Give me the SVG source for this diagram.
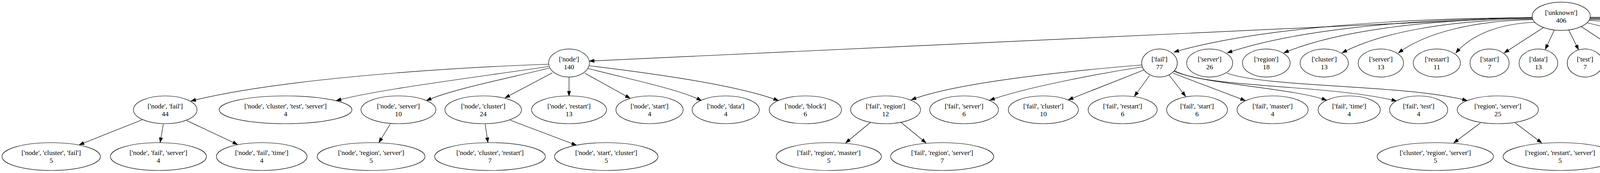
<svg xmlns="http://www.w3.org/2000/svg" width="5212" height="442" viewBox="0 0 5212 442">
<style>
.node ellipse{fill:#fff;stroke:#000;stroke-width:1.2}
.node text{font-family:"Liberation Serif","Times New Roman",serif;font-size:17.5px;text-anchor:middle;fill:#000}
.edges path{fill:none;stroke:#000;stroke-width:1.2;marker-end:url(#ah)}
</style>
<defs>
<marker id="ah" markerWidth="13" markerHeight="9" refX="12" refY="4.2" orient="auto" markerUnits="userSpaceOnUse" overflow="visible"><path d="M0,0 L12,4.2 L0,8.4 z" fill="#000" stroke="#000" stroke-width="1"/></marker>
</defs>
<rect width="5212" height="442" fill="#fff"/>
<g id="edges" class="edges">
<path d="M3923,44 L1509,156"/>
<path d="M3924,45 C3511,47 3189,80 3005.6,133"/>
<path d="M3924,46 C3572,48 3298,82 3142,135"/>
<path d="M3925,47 C3638,49 3414,82 3286.7,135"/>
<path d="M3926,49 C3706,51 3534,83 3436,135"/>
<path d="M3927,50 C3771,53 3649,84 3580,135"/>
<path d="M3930,57 C3839,60 3768,88 3727,135"/>
<path d="M3952,70 L3851,135"/>
<path d="M3979,77 L3956,126"/>
<path d="M4016,77 L4041,127"/>
<path d="M4048,68 L4147,133"/>
<path d="M4063,58 C4150,80 4240,100 4294,136"/>
<path d="M4068,52 C4230,62 4395,100 4444.8,136"/>
<path d="M4069,50 C4316,52 4499,84 4563,136"/>
<path d="M4070,48 C4388,50 4623,83 4706,136"/>
<path d="M4070,47 C4475,48 4776,82 4881,136"/>
<path d="M4071,45 C4539,46 4886,82 5007.6,136"/>
<path d="M4071,44 C4600,45 4990,81 5130,136"/>
<path d="M1404,164 C1100,175 700,205 489,258"/>
<path d="M1404,170 C1200,200 960,230 861,257"/>
<path d="M1406,174 C1300,200 1150,230 1092,257"/>
<path d="M1414,186 L1293,250"/>
<path d="M1456.7,197 L1456.7,245"/>
<path d="M1497,187 L1613,251"/>
<path d="M1506,175 C1600,200 1740,228 1795.6,257"/>
<path d="M1509,168 C1650,185 1880,215 1992.8,257"/>
<path d="M364,306 L203,370"/>
<path d="M418,317 L410,364"/>
<path d="M478,308 L608,369"/>
<path d="M999,317 L970,364"/>
<path d="M1242,317 L1249,364"/>
<path d="M1306,307 L1475.6,371"/>
<path d="M2923,166 C2750,180 2450,210 2333,255"/>
<path d="M2924,171 C2800,190 2620,225 2534,256"/>
<path d="M2928,179 L2735,255"/>
<path d="M2943,193 L2904,246"/>
<path d="M2993,192 L3035,246"/>
<path d="M3003,187 L3188,257"/>
<path d="M3005,182 C3080,215 3310,225 3396,256"/>
<path d="M3006,180 C3080,225 3400,215 3575,258"/>
<path d="M3141,187 C3250,225 3600,215 3756,257"/>
<path d="M2228,313 L2165,365"/>
<path d="M2307,313 L2370.6,365"/>
<path d="M3790,314 L3721.7,365"/>
<path d="M3879,314 L3946.7,365"/>
</g>
<g id="n_unknown" class="node"><ellipse cx="3996.7" cy="41.5" rx="74.4" ry="36.2"/><text x="3996.7" y="37.5">['unknown']</text><text x="3996.7" y="57.5">406</text></g>
<g id="n_node" class="node"><ellipse cx="1456.7" cy="161" rx="52.2" ry="35.8"/><text x="1456.7" y="157">['node']</text><text x="1456.7" y="177">140</text></g>
<g id="n_fail" class="node"><ellipse cx="2968.3" cy="161" rx="45.6" ry="35.8"/><text x="2968.3" y="157">['fail']</text><text x="2968.3" y="177">77</text></g>
<g id="n_server" class="node"><ellipse cx="3096.7" cy="161" rx="58.9" ry="35.8"/><text x="3096.7" y="157">['server']</text><text x="3096.7" y="177">26</text></g>
<g id="n_region" class="node"><ellipse cx="3241.7" cy="161" rx="61" ry="35.8"/><text x="3241.7" y="157">['region']</text><text x="3241.7" y="177">18</text></g>
<g id="n_cluster" class="node"><ellipse cx="3390" cy="161" rx="61.7" ry="35.8"/><text x="3390" y="157">['cluster']</text><text x="3390" y="177">13</text></g>
<g id="n_server2" class="node"><ellipse cx="3535" cy="161" rx="58" ry="35.8"/><text x="3535" y="157">['server']</text><text x="3535" y="177">13</text></g>
<g id="n_restart" class="node"><ellipse cx="3678.3" cy="161" rx="60.3" ry="35.8"/><text x="3678.3" y="157">['restart']</text><text x="3678.3" y="177">11</text></g>
<g id="n_start" class="node"><ellipse cx="3813.3" cy="161" rx="50" ry="35.8"/><text x="3813.3" y="157">['start']</text><text x="3813.3" y="177">7</text></g>
<g id="n_data" class="node"><ellipse cx="3938.3" cy="161" rx="49.4" ry="35.8"/><text x="3938.3" y="157">['data']</text><text x="3938.3" y="177">13</text></g>
<g id="n_test" class="node"><ellipse cx="4057.8" cy="161" rx="45.6" ry="35.8"/><text x="4057.8" y="157">['test']</text><text x="4057.8" y="177">7</text></g>
<g id="n_master" class="node"><ellipse cx="4191.7" cy="161" rx="63.3" ry="35.8"/><text x="4191.7" y="157">['master']</text><text x="4191.7" y="177">4</text></g>
<g id="n_process" class="node"><ellipse cx="4345.7" cy="161" rx="65.7" ry="35.8"/><text x="4345.7" y="157">['process']</text><text x="4345.7" y="177">4</text></g>
<g id="n_file" class="node"><ellipse cx="4480.9" cy="161" rx="45.8" ry="35.8"/><text x="4480.9" y="157">['file']</text><text x="4480.9" y="177">6</text></g>
<g id="n_block" class="node"><ellipse cx="4606.4" cy="161" rx="56.4" ry="35.8"/><text x="4606.4" y="157">['block']</text><text x="4606.4" y="177">4</text></g>
<g id="n_exception" class="node"><ellipse cx="4765.3" cy="161" rx="78" ry="35.8"/><text x="4765.3" y="157">['exception']</text><text x="4765.3" y="177">4</text></g>
<g id="n_state" class="node"><ellipse cx="4919.8" cy="161" rx="52" ry="35.8"/><text x="4919.8" y="157">['state']</text><text x="4919.8" y="177">4</text></g>
<g id="n_task" class="node"><ellipse cx="5045.9" cy="161" rx="49.2" ry="35.8"/><text x="5045.9" y="157">['task']</text><text x="5045.9" y="177">4</text></g>
<g id="n_job" class="node"><ellipse cx="5163" cy="161" rx="43.9" ry="35.8"/><text x="5163" y="157">['job']</text><text x="5163" y="177">5</text></g>
<g id="n_node_fail" class="node"><ellipse cx="423" cy="280.5" rx="81.4" ry="35.5"/><text x="423" y="276.5">['node', 'fail']</text><text x="423" y="296.5">44</text></g>
<g id="n_node_cluster_test_server" class="node"><ellipse cx="731" cy="280.5" rx="170" ry="35.5"/><text x="731" y="276.5">['node', 'cluster', 'test', 'server']</text><text x="731" y="296.5">4</text></g>
<g id="n_node_server" class="node"><ellipse cx="1020" cy="280.5" rx="95.8" ry="35.5"/><text x="1020" y="276.5">['node', 'server']</text><text x="1020" y="296.5">10</text></g>
<g id="n_node_cluster" class="node"><ellipse cx="1237" cy="280.5" rx="98" ry="35.5"/><text x="1237" y="276.5">['node', 'cluster']</text><text x="1237" y="296.5">24</text></g>
<g id="n_node_restart" class="node"><ellipse cx="1456.7" cy="280.5" rx="96" ry="35.5"/><text x="1456.7" y="276.5">['node', 'restart']</text><text x="1456.7" y="296.5">13</text></g>
<g id="n_node_start" class="node"><ellipse cx="1662.8" cy="280.5" rx="86" ry="35.5"/><text x="1662.8" y="276.5">['node', 'start']</text><text x="1662.8" y="296.5">4</text></g>
<g id="n_node_data" class="node"><ellipse cx="1857.8" cy="280.5" rx="86" ry="35.5"/><text x="1857.8" y="276.5">['node', 'data']</text><text x="1857.8" y="296.5">4</text></g>
<g id="n_node_block" class="node"><ellipse cx="2061.7" cy="280.5" rx="92.5" ry="35.5"/><text x="2061.7" y="276.5">['node', 'block']</text><text x="2061.7" y="296.5">6</text></g>
<g id="n_fail_region" class="node"><ellipse cx="2267" cy="280.5" rx="89.4" ry="35.5"/><text x="2267" y="276.5">['fail', 'region']</text><text x="2267" y="296.5">12</text></g>
<g id="n_fail_server" class="node"><ellipse cx="2468" cy="280.5" rx="88" ry="35.5"/><text x="2468" y="276.5">['fail', 'server']</text><text x="2468" y="296.5">6</text></g>
<g id="n_fail_cluster" class="node"><ellipse cx="2671" cy="280.5" rx="89.7" ry="35.5"/><text x="2671" y="276.5">['fail', 'cluster']</text><text x="2671" y="296.5">10</text></g>
<g id="n_fail_restart" class="node"><ellipse cx="2873.9" cy="280.5" rx="88.3" ry="35.5"/><text x="2873.9" y="276.5">['fail', 'restart']</text><text x="2873.9" y="296.5">6</text></g>
<g id="n_fail_start" class="node"><ellipse cx="3064.4" cy="280.5" rx="77.8" ry="35.5"/><text x="3064.4" y="276.5">['fail', 'start']</text><text x="3064.4" y="296.5">6</text></g>
<g id="n_fail_master" class="node"><ellipse cx="3257.8" cy="280.5" rx="91" ry="35.5"/><text x="3257.8" y="276.5">['fail', 'master']</text><text x="3257.8" y="296.5">4</text></g>
<g id="n_fail_time" class="node"><ellipse cx="3453.9" cy="280.5" rx="79.5" ry="35.5"/><text x="3453.9" y="276.5">['fail', 'time']</text><text x="3453.9" y="296.5">4</text></g>
<g id="n_fail_test" class="node"><ellipse cx="3631.7" cy="280.5" rx="74.4" ry="35.5"/><text x="3631.7" y="276.5">['fail', 'test']</text><text x="3631.7" y="296.5">4</text></g>
<g id="n_region_server" class="node"><ellipse cx="3834.4" cy="280.5" rx="103.9" ry="35.5"/><text x="3834.4" y="276.5">['region', 'server']</text><text x="3834.4" y="296.5">25</text></g>
<g id="n_node_cluster_fail" class="node"><ellipse cx="131" cy="400" rx="126" ry="35.5"/><text x="131" y="396">['node', 'cluster', 'fail']</text><text x="131" y="416">5</text></g>
<g id="n_node_fail_server" class="node"><ellipse cx="405.6" cy="400" rx="123" ry="35.5"/><text x="405.6" y="396">['node', 'fail', 'server']</text><text x="405.6" y="416">4</text></g>
<g id="n_node_fail_time" class="node"><ellipse cx="670" cy="400" rx="116" ry="35.5"/><text x="670" y="396">['node', 'fail', 'time']</text><text x="670" y="416">4</text></g>
<g id="n_node_region_server" class="node"><ellipse cx="950" cy="400" rx="138" ry="35.5"/><text x="950" y="396">['node', 'region', 'server']</text><text x="950" y="416">5</text></g>
<g id="n_node_cluster_restart" class="node"><ellipse cx="1254.4" cy="400" rx="141.7" ry="35.5"/><text x="1254.4" y="396">['node', 'cluster', 'restart']</text><text x="1254.4" y="416">7</text></g>
<g id="n_node_start_cluster" class="node"><ellipse cx="1552" cy="400" rx="132.5" ry="35.5"/><text x="1552" y="396">['node', 'start', 'cluster']</text><text x="1552" y="416">5</text></g>
<g id="n_fail_region_master" class="node"><ellipse cx="2121.7" cy="400" rx="134.7" ry="35.5"/><text x="2121.7" y="396">['fail', 'region', 'master']</text><text x="2121.7" y="416">5</text></g>
<g id="n_fail_region_server" class="node"><ellipse cx="2412" cy="400" rx="132" ry="35.5"/><text x="2412" y="396">['fail', 'region', 'server']</text><text x="2412" y="416">7</text></g>
<g id="n_cluster_region_server" class="node"><ellipse cx="3674.4" cy="400" rx="148.9" ry="35.5"/><text x="3674.4" y="396">['cluster', 'region', 'server']</text><text x="3674.4" y="416">5</text></g>
<g id="n_region_restart_server" class="node"><ellipse cx="3993.9" cy="400" rx="146" ry="35.5"/><text x="3993.9" y="396">['region', 'restart', 'server']</text><text x="3993.9" y="416">5</text></g>
</svg>
